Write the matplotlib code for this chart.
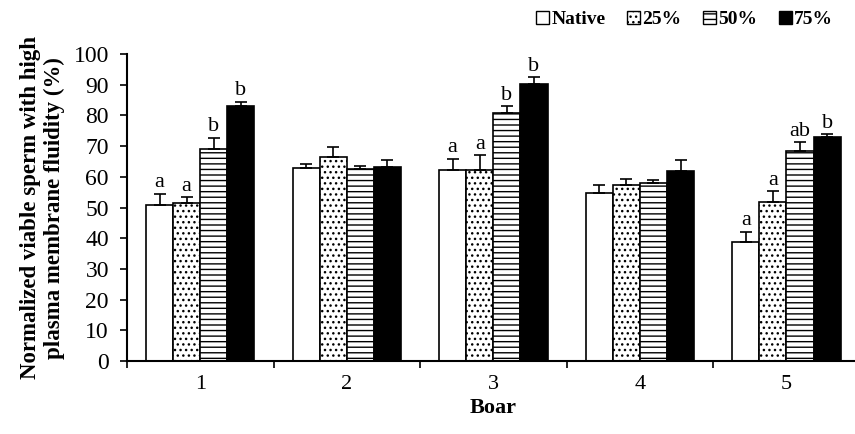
import numpy as np
import matplotlib.pyplot as plt
from matplotlib.patches import Patch

plt.rcParams['font.family'] = ['Liberation Serif', 'DejaVu Serif']
plt.rcParams['hatch.linewidth'] = 1.0

boars = ['1', '2', '3', '4', '5']
groups = ['Native', '25%', '50%', '75%']

# mean values per boar for each treatment
native = [51.0, 63.0, 62.4, 54.9, 38.9]
pct25 = [51.6, 66.5, 62.4, 57.2, 51.7]
pct50 = [69.2, 62.6, 80.9, 57.9, 68.4]
pct75 = [83.2, 63.1, 90.2, 62.0, 73.0]

# standard errors (upper only)
err_native = [3.5, 1.2, 3.5, 2.4, 3.2]
err_25 = [1.8, 3.3, 4.6, 2.0, 3.6]
err_50 = [3.5, 1.0, 2.1, 1.1, 2.9]
err_75 = [1.3, 2.3, 2.3, 3.4, 0.9]

# significance letters
let_native = ['a', '', 'a', '', 'a']
let_25 = ['a', '', 'a', '', 'a']
let_50 = ['b', '', 'b', '', 'ab']
let_75 = ['b', '', 'b', '', 'b']

values = [native, pct25, pct50, pct75]
errors = [err_native, err_25, err_50, err_75]
letters = [let_native, let_25, let_50, let_75]
faces = ['white', 'white', 'white', 'black']
hatches = [None, '...', '---', None]

fig = plt.figure(figsize=(8.55, 4.34), dpi=100)
ax = fig.add_axes([0.1485, 0.168, 0.857, 0.7074])

x = np.arange(1, len(boars) + 1)
w = 0.185
offsets = (np.arange(4) - 1.5) * w

for i in range(4):
    xs = x + offsets[i]
    ax.bar(xs, values[i], width=w, color=faces[i], edgecolor='black',
           linewidth=1.2, hatch=hatches[i], zorder=2)
    ax.errorbar(xs, values[i], yerr=[np.zeros(5), errors[i]], fmt='none',
                ecolor='black', elinewidth=1.2, capsize=4, capthick=1.2, zorder=3)
    for xx, v, e, t in zip(xs, values[i], errors[i], letters[i]):
        if t:
            ax.text(xx, v + e + 0.5, t, ha='center', va='bottom', fontsize=16)

ax.set_xlim(0.5, 5.5)
ax.set_ylim(0, 100)
ax.set_yticks(np.arange(0, 101, 10))
ax.set_xticks(np.arange(0.5, 5.6, 1.0))
ax.set_xticklabels([])
ax.set_xticks(x, minor=True)
ax.set_xticklabels(boars, minor=True)
ax.tick_params(axis='x', which='minor', length=0, pad=10, labelsize=16)
ax.tick_params(axis='x', which='major', length=5, width=1.2)
ax.tick_params(axis='y', length=5, width=1.2, labelsize=17, pad=8)
for s in ['top', 'right']:
    ax.spines[s].set_visible(False)
for s in ['left', 'bottom']:
    ax.spines[s].set_linewidth(1.5)

ax.set_xlabel('Boar', fontsize=16, fontweight='bold', labelpad=3)
ax.set_ylabel('Normalized viable sperm with high\nplasma membrane fluidity (%)',
              fontsize=16.5, fontweight='bold', labelpad=6, linespacing=1.2)

handles = [Patch(facecolor=faces[i], edgecolor='black', hatch=hatches[i], linewidth=1.0)
           for i in range(4)]
fig.legend(handles, groups, loc='center right', bbox_to_anchor=(0.995, 0.955), ncol=4,
           frameon=False, handlelength=0.7, handleheight=0.7, handletextpad=0.1,
           columnspacing=1.1, prop={'weight': 'bold', 'size': 14})

fig.savefig('out.png', dpi=100)
